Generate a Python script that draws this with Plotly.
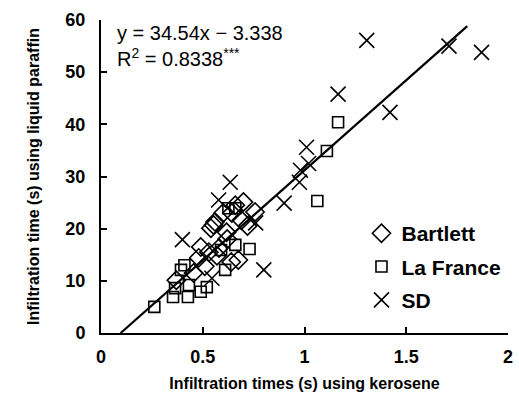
import plotly.graph_objects as go

# Bartlett
bart_x = [0.70, 0.757, 0.56, 0.54, 0.617, 0.69, 0.49, 0.48, 0.53, 0.64, 0.675, 0.37,
          0.60, 0.643, 0.553, 0.58, 0.62, 0.72, 0.455, 0.66, 0.51, 0.57]
bart_y = [25.1, 23.2, 21.3, 20.1, 19.3, 21.6, 16.5, 14.4, 15.5, 13.6, 14.0, 10.1,
          23.0, 23.0, 20.7, 16.3, 18.0, 20.5, 11.5, 24.5, 12.8, 14.8]
# La France
lf_x = [1.165, 1.11, 1.063, 0.262, 0.354, 0.364, 0.432, 0.427, 0.49, 0.52, 0.393, 0.41,
        0.61, 0.59, 0.66, 0.73, 0.626, 0.66]
lf_y = [40.4, 34.9, 25.3, 5.0, 6.9, 8.6, 9.2, 6.9, 7.9, 8.8, 12.1, 13.0,
        12.1, 15.9, 16.9, 16.1, 23.9, 23.9]
# SD
sd_x = [1.306, 1.87, 1.71, 1.165, 1.42, 1.01, 1.02, 0.98, 0.975, 0.90, 0.635, 0.578,
        0.40, 0.80, 0.76, 0.545]
sd_y = [56.1, 53.8, 55.0, 45.8, 42.3, 35.6, 32.5, 31.2, 28.9, 24.9, 28.9, 25.5,
        17.9, 12.1, 21.1, 10.5]

slope, intercept = 34.54, -3.338
fit_x = [-intercept / slope, 1.8]
fit_y = [slope * v + intercept for v in fit_x]

FONT = "Liberation Sans"

fig = go.Figure()
fig.add_trace(go.Scatter(x=fit_x, y=fit_y, mode="lines", line=dict(color="black", width=2.2),
                         showlegend=False, hoverinfo="skip"))
fig.add_trace(go.Scatter(x=bart_x, y=bart_y, mode="markers", name="Bartlett", legendgroup="b",
                         marker=dict(symbol="diamond-open", size=14, color="black",
                                     line=dict(width=1.6))))
fig.add_trace(go.Scatter(x=lf_x, y=lf_y, mode="markers", name="La France", legendgroup="l",
                         marker=dict(symbol="square-open", size=11, color="black",
                                     line=dict(width=1.6))))
fig.add_trace(go.Scatter(x=sd_x, y=sd_y, mode="markers", name="SD", legendgroup="s",
                         marker=dict(symbol="x-thin-open", size=15, color="black",
                                     line=dict(width=1.6, color="black"))))

fig.update_layout(
    width=519, height=396,
    margin=dict(l=101, r=6, t=20, b=63),
    plot_bgcolor="white", paper_bgcolor="white",
    font=dict(family=FONT, color="black"),
    legend=dict(x=0.64, y=0.383, xanchor="left", yanchor="top",
                font=dict(size=21, family=FONT, weight="bold"),
                itemsizing="trace", tracegroupgap=3, itemwidth=30,
                bgcolor="rgba(0,0,0,0)"),
    xaxis=dict(range=[0, 2], tickvals=[0, 0.5, 1, 1.5, 2], ticktext=["0", "0.5", "1", "1.5", "2"],
               showline=True, linecolor="black", linewidth=2, ticks="inside", ticklen=6,
               tickwidth=2, tickcolor="black", showgrid=False, zeroline=False,
               ticklabelstandoff=6,
               tickfont=dict(size=18, family=FONT, weight="bold"),
               title=dict(text="Infiltration times (s) using kerosene", standoff=12,
                          font=dict(size=16, family=FONT, weight="bold"))),
    yaxis=dict(range=[0, 60], tickvals=[0, 10, 20, 30, 40, 50, 60],
               showline=True, linecolor="black", linewidth=2, ticks="inside", ticklen=6,
               tickwidth=2, tickcolor="black", showgrid=False, zeroline=False,
               ticklabelstandoff=10,
               tickfont=dict(size=18, family=FONT, weight="bold"),
               title=dict(text="Infiltration time (s) using liquid paraffin", standoff=22,
                          font=dict(size=16, family=FONT, weight="bold"))),
)
fig.add_annotation(x=0.035, y=1.0, xref="paper", yref="paper", xanchor="left", yanchor="top",
                   showarrow=False, align="left",
                   text="y = 34.54x − 3.338<br>R<sup>2</sup> = 0.8338<sup>***</sup>",
                   font=dict(size=20, family=FONT, color="black"))

fig.write_html("out.html")
